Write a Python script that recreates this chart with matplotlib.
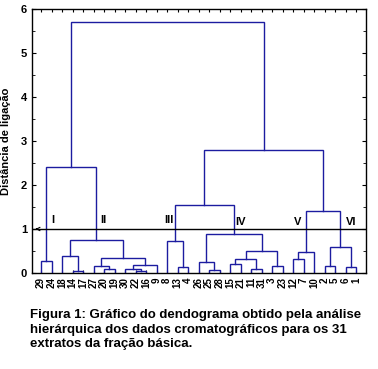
import matplotlib
matplotlib.use('Agg')
import matplotlib.pyplot as plt

# leaf order along the x axis
leaves = [29, 24, 18, 14, 17, 27, 20, 19, 30, 22, 16, 9, 8, 13, 4, 26, 25, 28,
          15, 21, 11, 31, 3, 23, 12, 7, 10, 2, 5, 6, 1]

# merges: (a, b, height); ints > 0 are leaves, -k is merge number k (1-based)
merges = [
    (14, 17, 0.04), (29, 24, 0.27), (18, -1, 0.38), (20, 19, 0.08),
    (27, -4, 0.17), (22, 16, 0.04), (30, -6, 0.09), (-7, 9, 0.19),
    (-5, -8, 0.34), (-3, -9, 0.76), (-2, -10, 2.42), (13, 4, 0.13),
    (8, -12, 0.72), (25, 28, 0.075), (26, -14, 0.25), (15, 21, 0.20),
    (11, 31, 0.10), (-16, -17, 0.32), (3, 23, 0.15), (-18, -19, 0.49),
    (-15, -20, 0.88), (-13, -21, 1.54), (12, 7, 0.31), (-23, 10, 0.48),
    (2, 5, 0.16), (6, 1, 0.13), (-25, -26, 0.60), (-24, -27, 1.41),
    (-22, -28, 2.79), (-11, -29, 5.70),
]

cut_level = 1.0
groups = ['I', 'II', 'III', 'IV', 'V', 'VI']
group_x = [2.1, 6.9, 13.2, 20.0, 25.4, 30.5]
group_y = [1.2, 1.2, 1.2, 1.17, 1.17, 1.17]

caption = ("Figura 1: Gráfico do dendograma obtido pela análise\n"
           "hierárquica dos dados cromatográficos para os 31\n"
           "extratos da fração básica.")

plt.rcParams['font.family'] = ['Liberation Sans', 'DejaVu Sans']
plt.rcParams['font.weight'] = 'bold'

fig = plt.figure(figsize=(3.78, 3.69), dpi=100)
ax = fig.add_axes([32/378, 1-273/369, 334/378, 264/369])

lc = '#1c1ca0'
pos = {lf: i + 1 for i, lf in enumerate(leaves)}
node = []  # (x, h) of each merge


def get(n):
    if n > 0:
        return pos[n], 0.0
    return node[-n - 1]


for a, b, h in merges:
    xa, ha = get(a)
    xb, hb = get(b)
    ax.plot([xa, xa, xb, xb], [ha, h, h, hb], color=lc, lw=1.0, solid_joinstyle='miter')
    node.append(((xa + xb) / 2, h))

ax.axhline(cut_level, color='k', lw=1.0)
ax.annotate('', xy=(0.2, cut_level), xytext=(0.9, cut_level),
            arrowprops=dict(arrowstyle='->', color='k', lw=0.8, mutation_scale=6))

for g, gx, gy in zip(groups, group_x, group_y):
    ax.text(gx, gy, g, fontsize=8, fontweight='bold', ha='center', va='center')

ax.set_xlim(0.14, 31.95)
ax.set_ylim(0, 6)
ax.set_xticks(range(1, len(leaves) + 1))
ax.set_xticklabels([str(l) for l in leaves], rotation=90, fontsize=7, fontweight='bold')
ax.set_yticks(range(0, 7))
ax.set_yticks([i + 0.5 for i in range(6)], minor=True)
ax.tick_params(axis='y', which='both', direction='in', right=True, labelsize=8, length=3)
ax.tick_params(axis='y', which='minor', length=2)
ax.tick_params(axis='x', direction='in', top=True, length=2, pad=3)
for s in ax.spines.values():
    s.set_linewidth(1.0)
ax.set_ylabel('Distância de ligação', fontsize=8, fontweight='bold', labelpad=7)

fig.text(30/378, 1-309/369, caption, fontsize=9.5, fontweight='bold',
         ha='left', va='top', linespacing=1.3)

fig.savefig('out.png', dpi=100)
